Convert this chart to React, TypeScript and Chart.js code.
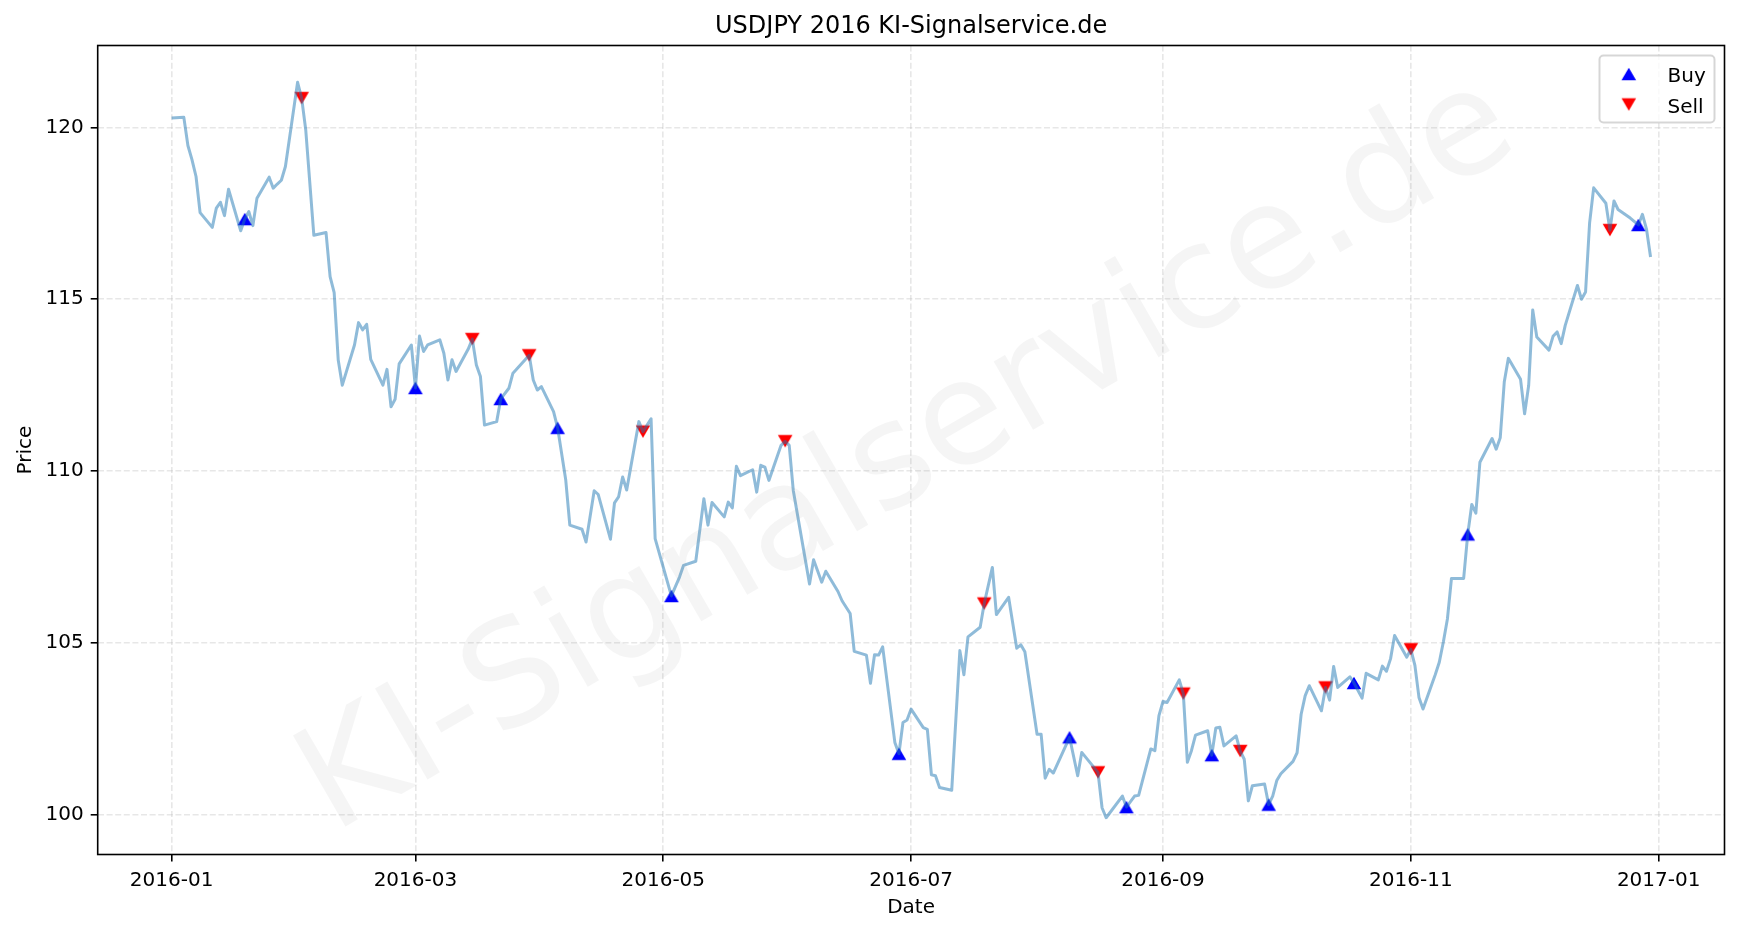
import React, { useEffect, useRef } from "react";
import { Chart, registerables } from "chart.js";

Chart.register(...registerables);

// ---------- data ----------
const dates = [
  "2016-01-01", "2016-01-04", "2016-01-05", "2016-01-06", "2016-01-07", "2016-01-08",
  "2016-01-11", "2016-01-12", "2016-01-13", "2016-01-14", "2016-01-15",
  "2016-01-18", "2016-01-19", "2016-01-20", "2016-01-21", "2016-01-22",
  "2016-01-25", "2016-01-26", "2016-01-27", "2016-01-28", "2016-01-29",
  "2016-02-01", "2016-02-02", "2016-02-03", "2016-02-05",
  "2016-02-08", "2016-02-09", "2016-02-10", "2016-02-11", "2016-02-12",
  "2016-02-15", "2016-02-16", "2016-02-17", "2016-02-18", "2016-02-19",
  "2016-02-22", "2016-02-23", "2016-02-24", "2016-02-25", "2016-02-26",
  "2016-02-29", "2016-03-01", "2016-03-02", "2016-03-03", "2016-03-04",
  "2016-03-07", "2016-03-08", "2016-03-09", "2016-03-10", "2016-03-11",
  "2016-03-14", "2016-03-15", "2016-03-16", "2016-03-17", "2016-03-18",
  "2016-03-21", "2016-03-22", "2016-03-24", "2016-03-25",
  "2016-03-29", "2016-03-30", "2016-03-31", "2016-04-01",
  "2016-04-04", "2016-04-05", "2016-04-07", "2016-04-08",
  "2016-04-11", "2016-04-12", "2016-04-14", "2016-04-15",
  "2016-04-18", "2016-04-19", "2016-04-20", "2016-04-21", "2016-04-22",
  "2016-04-25", "2016-04-26", "2016-04-28", "2016-04-29",
  "2016-05-03", "2016-05-05", "2016-05-06",
  "2016-05-09", "2016-05-11", "2016-05-12", "2016-05-13",
  "2016-05-16", "2016-05-17", "2016-05-18", "2016-05-19", "2016-05-20",
  "2016-05-23", "2016-05-24", "2016-05-25", "2016-05-26", "2016-05-27",
  "2016-05-30", "2016-05-31", "2016-06-01", "2016-06-02",
  "2016-06-06", "2016-06-07", "2016-06-09", "2016-06-10",
  "2016-06-13", "2016-06-14", "2016-06-16", "2016-06-17",
  "2016-06-20", "2016-06-21", "2016-06-22", "2016-06-23", "2016-06-24",
  "2016-06-27", "2016-06-28", "2016-06-29", "2016-06-30", "2016-07-01",
  "2016-07-04", "2016-07-05", "2016-07-06", "2016-07-07", "2016-07-08",
  "2016-07-11", "2016-07-13", "2016-07-14", "2016-07-15",
  "2016-07-18", "2016-07-19", "2016-07-21", "2016-07-22",
  "2016-07-25", "2016-07-27", "2016-07-28", "2016-07-29",
  "2016-08-01", "2016-08-02", "2016-08-03", "2016-08-04", "2016-08-05",
  "2016-08-09", "2016-08-11", "2016-08-12",
  "2016-08-16", "2016-08-17", "2016-08-18",
  "2016-08-22", "2016-08-23", "2016-08-25", "2016-08-26",
  "2016-08-29", "2016-08-30", "2016-08-31", "2016-09-01", "2016-09-02",
  "2016-09-05", "2016-09-06", "2016-09-07", "2016-09-08", "2016-09-09",
  "2016-09-12", "2016-09-13", "2016-09-14", "2016-09-15", "2016-09-16",
  "2016-09-19", "2016-09-20", "2016-09-21", "2016-09-22", "2016-09-23",
  "2016-09-26", "2016-09-27", "2016-09-28", "2016-09-29", "2016-09-30",
  "2016-10-03", "2016-10-04", "2016-10-05", "2016-10-06", "2016-10-07",
  "2016-10-10", "2016-10-11", "2016-10-12", "2016-10-13", "2016-10-14",
  "2016-10-17", "2016-10-18", "2016-10-20", "2016-10-21",
  "2016-10-24", "2016-10-25", "2016-10-26", "2016-10-27", "2016-10-28",
  "2016-10-31", "2016-11-01", "2016-11-02", "2016-11-03", "2016-11-04",
  "2016-11-07", "2016-11-08", "2016-11-09", "2016-11-10", "2016-11-11",
  "2016-11-14", "2016-11-15", "2016-11-16", "2016-11-17", "2016-11-18",
  "2016-11-21", "2016-11-22", "2016-11-23", "2016-11-24", "2016-11-25",
  "2016-11-28", "2016-11-29", "2016-11-30", "2016-12-01", "2016-12-02",
  "2016-12-05", "2016-12-06", "2016-12-07", "2016-12-08", "2016-12-09",
  "2016-12-12", "2016-12-13", "2016-12-14", "2016-12-15", "2016-12-16",
  "2016-12-19", "2016-12-20", "2016-12-21", "2016-12-22",
  "2016-12-25", "2016-12-27", "2016-12-28", "2016-12-29", "2016-12-30",
];

const prices = [
  120.27, 120.29, 119.47, 119.06, 118.57, 117.52,
  117.09, 117.65, 117.82, 117.43, 118.20,
  116.99, 117.33, 117.55, 117.14, 117.94,
  118.55, 118.23, 118.35, 118.46, 118.86,
  121.31, 120.85, 119.93, 116.86,
  116.94, 115.66, 115.19, 113.23, 112.50,
  113.67, 114.32, 114.11, 114.27, 113.25,
  112.50, 112.96, 111.87, 112.09, 113.12,
  113.67, 112.42, 113.93, 113.48, 113.67,
  113.82, 113.43, 112.65, 113.24, 112.90,
  113.55, 113.84, 113.09, 112.75, 111.34,
  111.44, 112.10, 112.41, 112.85,
  113.37, 112.65, 112.36, 112.46,
  111.73, 111.26, 109.74, 108.43,
  108.31, 107.94, 109.43, 109.32,
  108.02, 109.08, 109.25, 109.83, 109.45,
  111.44, 111.15, 111.52, 108.04,
  106.37, 106.92, 107.26,
  107.38, 109.20, 108.43, 109.09,
  108.67, 109.10, 108.93, 110.14, 109.87,
  110.04, 109.39, 110.17, 110.12, 109.73,
  110.75, 110.87, 110.75, 109.44,
  106.72, 107.42, 106.77, 107.09,
  106.50, 106.23, 105.86, 104.76,
  104.65, 103.83, 104.66, 104.65, 104.89,
  102.11, 101.78, 102.69, 102.76, 103.08,
  102.54, 102.49, 101.17, 101.14, 100.80,
  100.72, 104.78, 104.08, 105.18,
  105.46, 106.15, 107.20, 105.83,
  106.33, 104.85, 104.95, 104.75,
  102.35, 102.35, 101.07, 101.33, 101.22,
  102.26, 101.14, 101.82,
  101.24, 100.21, 99.92,
  100.55, 100.23, 100.55, 100.57,
  101.92, 101.87, 102.89, 103.30, 103.27,
  103.93, 103.53, 101.53, 101.87, 102.32,
  102.45, 101.74, 102.53, 102.55, 102.01,
  102.30, 101.86, 101.62, 100.41, 100.85,
  100.90, 100.30, 100.55, 101.00, 101.20,
  101.56, 101.81, 102.93, 103.47, 103.76,
  103.03, 103.71, 103.34, 104.32, 103.71,
  104.02, 103.84, 103.40, 104.12,
  103.93, 104.33, 104.18, 104.54, 105.22,
  104.59, 104.82, 104.35, 103.42, 103.08,
  104.08, 104.44, 105.03, 105.70, 106.88,
  106.88, 108.16, 109.03, 108.78, 110.26,
  110.95, 110.64, 110.97, 112.60, 113.28,
  112.67, 111.67, 112.49, 114.69, 113.90,
  113.52, 113.92, 114.05, 113.71, 114.24,
  115.40, 115.00, 115.21, 117.22, 118.24,
  117.79, 117.01, 117.86, 117.61,
  117.36, 117.16, 117.47, 117.04, 116.23,
];

const buyDates = [
  "2016-01-19", "2016-03-01", "2016-03-22", "2016-04-05", "2016-05-03",
  "2016-06-28", "2016-08-09", "2016-08-23", "2016-09-13", "2016-09-27",
  "2016-10-18", "2016-11-15", "2016-12-27",
];
const sellDates = [
  "2016-02-02", "2016-03-15", "2016-03-29", "2016-04-26", "2016-05-31",
  "2016-07-19", "2016-08-16", "2016-09-06", "2016-09-20", "2016-10-11",
  "2016-11-01", "2016-12-20",
];

const tickDates = [
  "2016-01-01", "2016-03-01", "2016-05-01", "2016-07-01",
  "2016-09-01", "2016-11-01", "2017-01-01",
];
const yTicks = [100, 105, 110, 115, 120];

const TITLE = "USDJPY 2016 KI-Signalservice.de";
const WATERMARK = "KI-Signalservice.de";
const X_LABEL = "Date";
const Y_LABEL = "Price";
const LEGEND_LABELS = ["Buy", "Sell"];

// ---------- helpers ----------
const FONT = "'DejaVu Sans', 'Liberation Sans', sans-serif";
const ORIGIN = Date.UTC(2016, 0, 1);
const toDay = (s: string) => {
  const [y, m, d] = s.split("-").map(Number);
  return (Date.UTC(y, m - 1, d) - ORIGIN) / 86400000;
};

function triangleImage(color: string, up: boolean): HTMLCanvasElement {
  const c = document.createElement("canvas");
  c.width = 18;
  c.height = 18;
  const g = c.getContext("2d")!;
  const w = 14.6;
  const h = 12.6;
  const cx = 9;
  const cy = 9;
  g.fillStyle = color;
  g.beginPath();
  if (up) {
    g.moveTo(cx, cy - h / 2);
    g.lineTo(cx + w / 2, cy + h / 2);
    g.lineTo(cx - w / 2, cy + h / 2);
  } else {
    g.moveTo(cx, cy + h / 2);
    g.lineTo(cx + w / 2, cy - h / 2);
    g.lineTo(cx - w / 2, cy - h / 2);
  }
  g.closePath();
  g.fill();
  return c;
}

export default function App() {
  const ref = useRef<HTMLCanvasElement | null>(null);

  useEffect(() => {
    const canvas = ref.current;
    if (!canvas) return;

    const days = dates.map(toDay);
    const linePts = days.map((x, i) => ({ x, y: prices[i] }));
    const sig = (list: string[]) =>
      list.map((d) => ({ x: toDay(d), y: prices[dates.indexOf(d)] }));

    const xLo = Math.min(...days);
    const xHi = Math.max(...days);
    const xPad = 0.05 * (xHi - xLo);
    const yLo = Math.min(...prices);
    const yHi = Math.max(...prices);
    const yPad = 0.05 * (yHi - yLo);

    const tickDays = tickDates.map(toDay);
    const tickLabel = (v: number) => {
      const i = tickDays.indexOf(v);
      return i >= 0 ? tickDates[i].slice(0, 7) : "";
    };

    const upImg = triangleImage("#0000ff", true);
    const downImg = triangleImage("#ff0000", false);

    const GRID = "rgba(176,176,176,0.3)";
    const tickFont = { family: FONT, size: 20 };

    const decor = {
      id: "decor",
      afterDatasetsDraw(chart: any) {
        const { ctx, chartArea: a } = chart;
        // watermark
        ctx.save();
        ctx.beginPath();
        ctx.rect(a.left, a.top, a.right - a.left, a.bottom - a.top);
        ctx.clip();
        ctx.translate((a.left + a.right) / 2 - 2, (a.top + a.bottom) / 2 + 8);
        ctx.rotate(-Math.PI / 6);
        ctx.font = `144px ${FONT}`;
        ctx.fillStyle = "rgba(128,128,128,0.08)";
        ctx.textAlign = "center";
        ctx.textBaseline = "middle";
        ctx.fillText(WATERMARK, 0, 0);
        ctx.restore();
        // spines
        ctx.save();
        ctx.strokeStyle = "#000000";
        ctx.lineWidth = 1.6;
        ctx.strokeRect(a.left, a.top, a.right - a.left, a.bottom - a.top);
        ctx.restore();
      },
      afterDraw(chart: any) {
        const { ctx, chartArea: a } = chart;
        const w = 115;
        const h = 67;
        const right = a.right - 10;
        const top = a.top + 10;
        const left = right - w;
        const r = 4;
        ctx.save();
        ctx.beginPath();
        ctx.moveTo(left + r, top);
        ctx.lineTo(left + w - r, top);
        ctx.arcTo(left + w, top, left + w, top + r, r);
        ctx.lineTo(left + w, top + h - r);
        ctx.arcTo(left + w, top + h, left + w - r, top + h, r);
        ctx.lineTo(left + r, top + h);
        ctx.arcTo(left, top + h, left, top + h - r, r);
        ctx.lineTo(left, top + r);
        ctx.arcTo(left, top, left + r, top, r);
        ctx.closePath();
        ctx.fillStyle = "rgba(255,255,255,0.8)";
        ctx.fill();
        ctx.strokeStyle = "rgba(204,204,204,0.8)";
        ctx.lineWidth = 2;
        ctx.stroke();
        const rows = [top + 18.5, top + 49];
        const imgs = [upImg, downImg];
        ctx.font = `20px ${FONT}`;
        ctx.fillStyle = "#000000";
        ctx.textAlign = "left";
        ctx.textBaseline = "alphabetic";
        rows.forEach((ry, i) => {
          const im = imgs[i];
          ctx.drawImage(im, left + 29.3 - im.width / 2, ry - im.height / 2);
          ctx.fillText(LEGEND_LABELS[i], left + 68, ry + 8);
        });
        ctx.restore();
      },
    };

    const chart = new Chart(canvas, {
      type: "scatter",
      data: {
        datasets: [
          {
            label: "Price",
            data: linePts,
            showLine: true,
            borderColor: "rgba(31,119,180,0.5)",
            backgroundColor: "rgba(31,119,180,0.5)",
            borderWidth: 3,
            borderJoinStyle: "round",
            pointRadius: 0,
            tension: 0,
            order: 0,
          } as any,
          {
            label: LEGEND_LABELS[0],
            data: sig(buyDates),
            pointStyle: upImg,
            pointRadius: 7,
            order: 1,
          } as any,
          {
            label: LEGEND_LABELS[1],
            data: sig(sellDates),
            pointStyle: downImg,
            pointRadius: 7,
            order: 1,
          } as any,
        ],
      },
      options: {
        responsive: false,
        animation: false,
        devicePixelRatio: 1,
        events: [],
        layout: { padding: { left: 0, right: 15.5, top: 0, bottom: 0 } },
        plugins: {
          legend: { display: false },
          tooltip: { enabled: false },
          title: {
            display: true,
            text: TITLE,
            fullSize: false,
            color: "#000000",
            font: { family: FONT, size: 24, weight: "normal" },
            padding: { top: 12, bottom: 4.7 },
          },
        },
        scales: {
          x: {
            type: "linear",
            position: "bottom",
            min: xLo - xPad,
            max: xHi + xPad,
            afterFit: (s: any) => {
              s.height = 77.5;
            },
            afterBuildTicks: (s: any) => {
              s.ticks = tickDays.map((v) => ({ value: v }));
            },
            ticks: {
              callback: (v: any) => tickLabel(Number(v)),
              color: "#000000",
              font: tickFont,
              padding: 7,
              maxRotation: 0,
              minRotation: 0,
              autoSkip: false,
            },
            grid: {
              color: GRID,
              lineWidth: 1.6,
              drawTicks: true,
              tickLength: 7,
              tickColor: "#000000",
              tickWidth: 1.6,
            },
            border: { display: false, dash: [6, 2.6] },
            title: {
              display: true,
              text: X_LABEL,
              color: "#000000",
              font: tickFont,
              padding: { top: 0, bottom: 12 },
            },
          } as any,
          y: {
            type: "linear",
            position: "left",
            min: yLo - yPad,
            max: yHi + yPad,
            afterFit: (s: any) => {
              s.width = 97.7;
            },
            afterBuildTicks: (s: any) => {
              s.ticks = yTicks.map((v) => ({ value: v }));
            },
            ticks: {
              callback: (v: any) => String(v),
              color: "#000000",
              font: tickFont,
              padding: 7,
            },
            grid: {
              color: GRID,
              lineWidth: 1.6,
              drawTicks: true,
              tickLength: 7,
              tickColor: "#000000",
              tickWidth: 1.6,
            },
            border: { display: false, dash: [6, 2.6] },
            title: {
              display: true,
              text: Y_LABEL,
              color: "#000000",
              font: tickFont,
              padding: { top: 13.5, bottom: 0 },
            },
          } as any,
        },
      },
      plugins: [decor],
    });

    return () => chart.destroy();
  }, []);

  return (
    <div
      style={{
        position: "absolute",
        left: 0,
        top: 0,
        width: 1740,
        height: 932,
        background: "#ffffff",
      }}
    >
      <canvas ref={ref} width={1740} height={932} style={{ display: "block" }} />
    </div>
  );
}
